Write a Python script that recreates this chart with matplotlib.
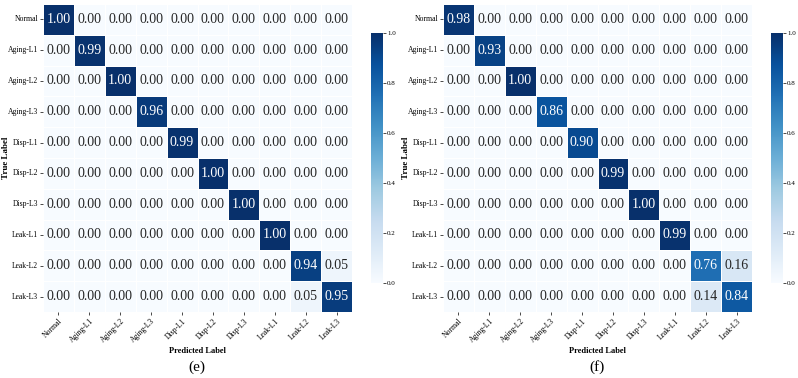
import numpy as np
import matplotlib
matplotlib.use("Agg")
import matplotlib.pyplot as plt
import seaborn as sns

labels = ["Normal", "Aging-L1", "Aging-L2", "Aging-L3", "Disp-L1",
          "Disp-L2", "Disp-L3", "Leak-L1", "Leak-L2", "Leak-L3"]

diag_e = [1.00, 0.99, 1.00, 0.96, 0.99, 1.00, 1.00, 1.00, 0.94, 0.95]
off_e = {(8, 9): 0.05, (9, 8): 0.05}

diag_f = [0.98, 0.93, 1.00, 0.86, 0.90, 0.99, 1.00, 0.99, 0.76, 0.84]
off_f = {(8, 9): 0.16, (9, 8): 0.14}

panel_names = ["(e)", "(f)"]


def build(diag, off):
    m = np.zeros((len(labels), len(labels)))
    for i, v in enumerate(diag):
        m[i, i] = v
    for (i, j), v in off.items():
        m[i, j] = v
    return m


plt.rcParams['font.family'] = ['Liberation Serif', 'DejaVu Serif']

W, H = 798, 378
fig = plt.figure(figsize=(W / 100, H / 100), dpi=100)

mats = [build(diag_e, off_e), build(diag_f, off_f)]
x0s = [43, 443]
for k, (m, x0) in enumerate(zip(mats, x0s)):
    ax = fig.add_axes([x0 / W, 1 - 312 / H, 309 / W, 308 / H])
    cax = fig.add_axes([(x0 + 328) / W, 1 - 283 / H, 12 / W, 250 / H])
    sns.heatmap(m, ax=ax, cbar_ax=cax, cmap="Blues", vmin=0, vmax=1,
                annot=True, fmt=".2f", annot_kws={"size": 10},
                linewidths=0.6, linecolor="white",
                xticklabels=labels, yticklabels=labels)
    ax.tick_params(axis='both', length=2, width=0.5, labelsize=5.5, pad=1.5)
    plt.setp(ax.get_xticklabels(), rotation=45, ha='right', rotation_mode='anchor')
    plt.setp(ax.get_yticklabels(), rotation=0)
    ax.set_xlabel("Predicted Label", fontsize=6, fontweight='bold', labelpad=2)
    ax.set_ylabel("True Label", fontsize=6.5, fontweight='bold')
    ax.yaxis.set_label_coords(-33 / 309, 0.5)
    cax.tick_params(labelsize=5, length=2, width=0.5, pad=1)
    for s in cax.spines.values():
        s.set_visible(False)
    fig.text((x0 + 154) / W, 1 - 367 / H, panel_names[k], ha='center',
             va='center', fontsize=11)

fig.savefig("out.png", dpi=100)
